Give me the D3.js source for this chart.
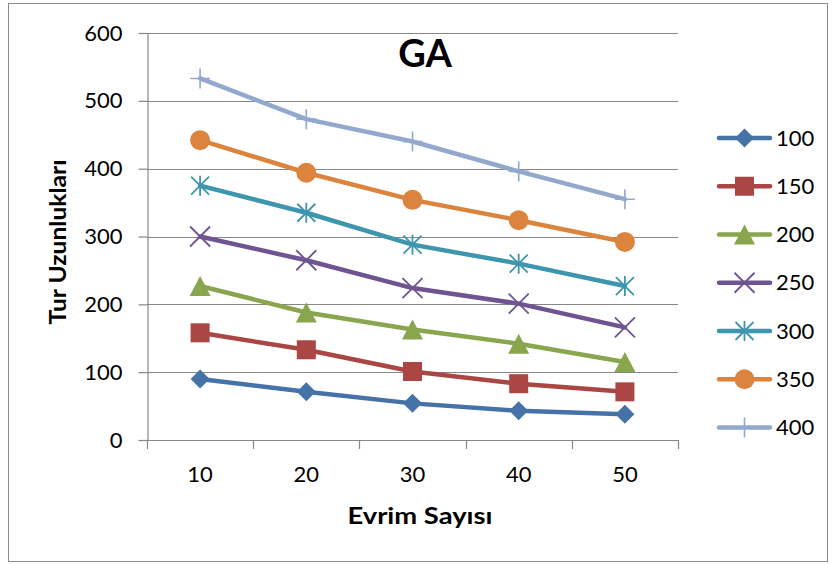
<!DOCTYPE html>
<html>
<head>
<meta charset="utf-8">
<script src="https://cdn.jsdelivr.net/npm/d3@7"></script>
<style>
  html, body { margin: 0; padding: 0; background: #fff; }
  svg { display: block; font-family: Lato, "Open Sans", sans-serif; }
</style>
</head>
<body>
<svg id="chart" width="834" height="565"></svg>
<script>
// Evrim sayısı (x categories)
const categories = ["10", "20", "30", "40", "50"];

// Tour lengths per series (city counts)
const seriesNames = ["100", "150", "200", "250", "300", "350", "400"];
const s100 = [90, 71, 54, 43, 38];
const s150 = [158, 133, 101, 83, 71];
const s200 = [227, 188, 163, 142, 115];
const s250 = [300, 265, 224, 201, 166];
const s300 = [375, 335, 288, 260, 227];
const s350 = [442, 394, 354, 324, 292];
const s400 = [533, 473, 440, 396, 355];

const yTicks = [0, 100, 200, 300, 400, 500, 600];

const colors = ["#4572A7", "#AA4643", "#89A54E", "#6E5490", "#3D96AE", "#DB843D", "#92A8CD"];
const markers = ["diamond", "square", "triangle", "x", "star", "circle", "plus"];

const seriesValues = [s100, s150, s200, s250, s300, s350, s400];
const series = seriesNames.map((name, i) => ({
  name, values: seriesValues[i], color: colors[i], marker: markers[i]
}));

const svg = d3.select("#chart");
const plot = { left: 147, right: 678, top: 33, bottom: 440 };

// outer frame
svg.append("rect")
  .attr("x", 8.5).attr("y", 3.5)
  .attr("width", 819).attr("height", 558)
  .attr("fill", "#fff").attr("stroke", "#8c8c8c").attr("stroke-width", 1);

const x = d3.scaleBand().domain(categories).range([plot.left, plot.right]).padding(0);
const y = d3.scaleLinear().domain([0, 600]).range([plot.bottom, plot.top]);

const gridColor = "#878787";

// horizontal gridlines
svg.append("g")
  .selectAll("line")
  .data(yTicks)
  .join("line")
  .attr("x1", plot.left).attr("x2", plot.right)
  .attr("y1", d => Math.round(y(d)) + 0.5).attr("y2", d => Math.round(y(d)) + 0.5)
  .attr("stroke", gridColor).attr("stroke-width", 1.2);

// y axis
const yAxis = svg.append("g")
  .attr("transform", `translate(${plot.left + 0.5},0)`)
  .call(d3.axisLeft(y).tickValues(yTicks).tickSize(9).tickPadding(16).tickSizeOuter(0));
yAxis.select(".domain").attr("stroke", gridColor).attr("stroke-width", 1.2);
yAxis.selectAll(".tick line").attr("stroke", gridColor).attr("stroke-width", 1.2);
yAxis.selectAll(".tick text")
  .attr("fill", "#000").style("font-size", "22px").style("font-family", "Lato, sans-serif");

// x axis labels at band centres
const xAxis = svg.append("g")
  .attr("transform", `translate(0,${plot.bottom + 0.5})`)
  .call(d3.axisBottom(x).tickSize(0).tickPadding(26));
xAxis.select(".domain").remove();
xAxis.selectAll(".tick text")
  .attr("fill", "#000").style("font-size", "22px").style("font-family", "Lato, sans-serif");

// x tick marks at category boundaries
const bounds = categories.map(c => x(c)).concat([x.range()[1]]);
svg.append("g")
  .selectAll("line")
  .data(bounds)
  .join("line")
  .attr("x1", d => Math.round(d) + 0.5).attr("x2", d => Math.round(d) + 0.5)
  .attr("y1", plot.bottom).attr("y2", plot.bottom + 9)
  .attr("stroke", gridColor).attr("stroke-width", 1.2);

// axis titles
svg.append("text")
  .attr("x", 420).attr("y", 524)
  .attr("text-anchor", "middle")
  .attr("textLength", 145).attr("lengthAdjust", "spacingAndGlyphs")
  .style("font-size", "23px").style("font-weight", "bold")
  .text("Evrim Sayısı");

svg.append("text")
  .attr("transform", "translate(66,242) rotate(-90)")
  .attr("text-anchor", "middle")
  .attr("textLength", 165).attr("lengthAdjust", "spacingAndGlyphs")
  .style("font-size", "23px").style("font-weight", "bold")
  .text("Tur Uzunlukları");

// chart title
svg.append("text")
  .attr("x", 425).attr("y", 67)
  .attr("text-anchor", "middle")
  .style("font-size", "38px").style("font-weight", "bold")
  .text("GA");

// marker drawing
function drawMarker(g, type, color) {
  const r = 9.5;
  switch (type) {
    case "diamond":
      g.append("path").attr("d", `M0,${-r}L${r},0L0,${r}L${-r},0Z`).attr("fill", color);
      break;
    case "square":
      g.append("rect").attr("x", -r).attr("y", -r).attr("width", 2 * r).attr("height", 2 * r).attr("fill", color);
      break;
    case "triangle":
      g.append("path").attr("d", `M0,-10L10.5,10L-10.5,10Z`).attr("fill", color);
      break;
    case "circle":
      g.append("circle").attr("r", 10).attr("fill", color);
      break;
    case "x":
      g.append("path").attr("d", `M-10,-10L10,10M10,-10L-10,10`)
        .attr("stroke", color).attr("stroke-width", 1.8).attr("fill", "none");
      break;
    case "star":
      g.append("path").attr("d", `M-9,-9L9,9M9,-9L-9,9M0,-10L0,10`)
        .attr("stroke", color).attr("stroke-width", 1.8).attr("fill", "none");
      break;
    case "plus":
      g.append("path").attr("d", `M-10,0L10,0M0,-10L0,10`)
        .attr("stroke", color).attr("stroke-width", 1.6).attr("fill", "none");
      break;
  }
}

const line = d3.line()
  .x((d, i) => x(categories[i]) + x.bandwidth() / 2)
  .y(d => y(d));

const seriesG = svg.append("g");
series.forEach(s => {
  const g = seriesG.append("g");
  g.append("path")
    .attr("d", line(s.values))
    .attr("fill", "none")
    .attr("stroke", s.color)
    .attr("stroke-width", 4.5)
    .attr("stroke-linecap", "round")
    .attr("stroke-linejoin", "round");
  s.values.forEach((v, i) => {
    const mg = g.append("g")
      .attr("transform", `translate(${x(categories[i]) + x.bandwidth() / 2},${y(v)})`);
    drawMarker(mg, s.marker, s.color);
  });
});

// legend
const legend = svg.append("g");
const legendY = d3.scalePoint().domain(seriesNames).range([138, 427.5]);
series.forEach(s => {
  const cy = legendY(s.name);
  const g = legend.append("g").attr("transform", `translate(0,${cy})`);
  g.append("line")
    .attr("x1", 719).attr("x2", 770)
    .attr("stroke", s.color).attr("stroke-width", 4.5).attr("stroke-linecap", "round");
  const mg = g.append("g").attr("transform", "translate(744.5,0)");
  drawMarker(mg, s.marker, s.color);
  g.append("text")
    .attr("x", 776).attr("y", 0).attr("dy", "0.35em")
    .style("font-size", "22px")
    .text(s.name);
});
</script>
</body>
</html>
